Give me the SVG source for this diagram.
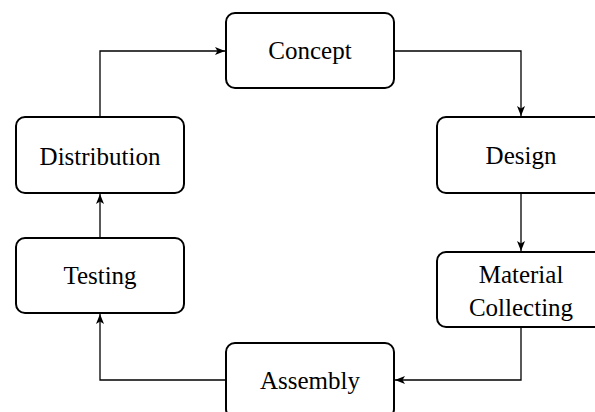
<svg xmlns="http://www.w3.org/2000/svg" width="595" height="412" viewBox="0 0 595 412">
<style>
.box{fill:#fff;stroke:#000;stroke-width:2}
.lbl{font-family:"Liberation Serif","Times New Roman",serif;font-size:25px;fill:#000;text-anchor:middle}
.edge{fill:none;stroke:#000;stroke-width:1.3}
</style>
<defs>
<marker id="arr" viewBox="0 0 10 8" refX="10" refY="4" markerWidth="10" markerHeight="8" markerUnits="userSpaceOnUse" orient="auto">
<path d="M0,0 L10,4 L0,8 L2.5,4 Z" fill="#000"/>
</marker>
</defs>
<rect width="595" height="412" fill="#fff"/>
<g id="connectors">
<path class="edge" d="M100,117 V51 H225" marker-end="url(#arr)"/>
<path class="edge" d="M394,51 H521 V116" marker-end="url(#arr)"/>
<path class="edge" d="M521,193 V251" marker-end="url(#arr)"/>
<path class="edge" d="M521,327 V380 H395" marker-end="url(#arr)"/>
<path class="edge" d="M226,380 H100 V314" marker-end="url(#arr)"/>
<path class="edge" d="M100,238 V194" marker-end="url(#arr)"/>
</g>
<g id="concept">
<rect class="box" x="226" y="13" width="168" height="75" rx="9"/>
<text class="lbl" x="310" y="59">Concept</text>
</g>
<g id="design">
<rect class="box" x="437" y="117" width="168" height="76" rx="9"/>
<text class="lbl" x="521" y="164">Design</text>
</g>
<g id="material">
<rect class="box" x="437" y="252" width="168" height="75" rx="9"/>
<text class="lbl" x="521" y="283">Material</text>
<text class="lbl" x="521" y="316">Collecting</text>
</g>
<g id="assembly">
<rect class="box" x="226" y="343" width="168" height="75" rx="9"/>
<text class="lbl" x="310" y="389">Assembly</text>
</g>
<g id="testing">
<rect class="box" x="16" y="238" width="168" height="75" rx="9"/>
<text class="lbl" x="100" y="284">Testing</text>
</g>
<g id="distribution">
<rect class="box" x="16" y="117" width="168" height="76" rx="9"/>
<text class="lbl" x="100" y="165">Distribution</text>
</g>
</svg>
